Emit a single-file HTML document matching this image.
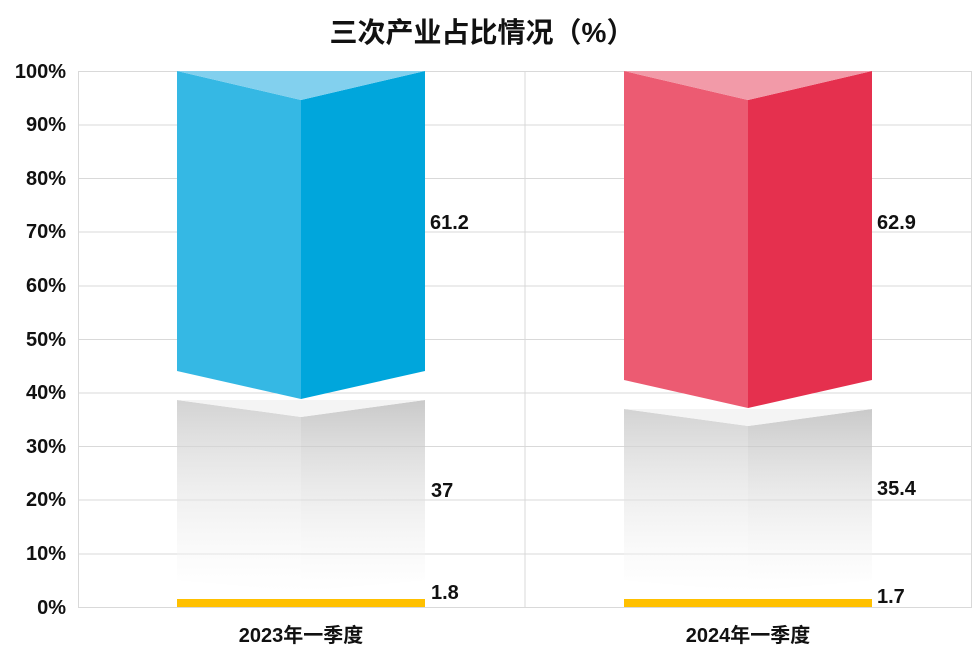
<!DOCTYPE html>
<html><head><meta charset="utf-8"><style>body{margin:0;background:#fff}svg{display:block}</style></head><body>
<svg width="980" height="654" xmlns="http://www.w3.org/2000/svg" font-family="Liberation Sans, Noto Sans CJK SC, sans-serif">
<defs>
<linearGradient id="gl" x1="0" y1="0" x2="0" y2="1"><stop offset="0" stop-color="#c8c8c8" stop-opacity="0.8"/><stop offset="1" stop-color="#ffffff" stop-opacity="0.3"/></linearGradient>
<linearGradient id="gr" x1="0" y1="0" x2="0" y2="1"><stop offset="0" stop-color="#bcbcbc" stop-opacity="0.8"/><stop offset="1" stop-color="#ffffff" stop-opacity="0.3"/></linearGradient>
</defs>
<text x="482" y="42" text-anchor="middle" font-size="28" font-weight="bold" fill="#111">三次产业占比情况（%）</text>
<g stroke="#d9d9d9" stroke-width="1">
<line x1="78" y1="71.5" x2="972" y2="71.5"/><line x1="78" y1="125" x2="972" y2="125"/><line x1="78" y1="178.5" x2="972" y2="178.5"/><line x1="78" y1="232" x2="972" y2="232"/><line x1="78" y1="286" x2="972" y2="286"/><line x1="78" y1="339.5" x2="972" y2="339.5"/><line x1="78" y1="393" x2="972" y2="393"/><line x1="78" y1="446.5" x2="972" y2="446.5"/><line x1="78" y1="500" x2="972" y2="500"/><line x1="78" y1="554" x2="972" y2="554"/><line x1="78" y1="607.5" x2="972" y2="607.5"/>
<line x1="78.5" y1="71" x2="78.5" y2="607"/><line x1="525" y1="71" x2="525" y2="607"/><line x1="971.5" y1="71" x2="971.5" y2="607"/>
</g>
<g font-size="20" font-weight="bold" fill="#111" text-anchor="end">
<text x="66" y="78">100%</text><text x="66" y="131">90%</text><text x="66" y="185">80%</text><text x="66" y="238">70%</text><text x="66" y="292">60%</text><text x="66" y="346">50%</text><text x="66" y="399">40%</text><text x="66" y="453">30%</text><text x="66" y="506">20%</text><text x="66" y="560">10%</text><text x="66" y="614">0%</text>
</g>
<polygon points="177,71 301,100 301,399 177,371" fill="#35b8e4"/>
<polygon points="301,100 425,71 425,371 301,399" fill="#00a6dc"/>
<polygon points="177,71 425,71 301,100" fill="#82d0ee"/>
<polygon points="177,400 301,417 301,592 177,580" fill="url(#gl)"/>
<polygon points="301,417 425,400 425,580 301,592" fill="url(#gr)"/>
<polygon points="177,400 425,400 301,417" fill="#f4f4f4"/>
<rect x="177" y="599" width="248" height="8" fill="#ffc000"/>
<polygon points="624,71 748,100 748,408 624,380" fill="#ec5b72"/>
<polygon points="748,100 872,71 872,380 748,408" fill="#e5304e"/>
<polygon points="624,71 872,71 748,100" fill="#f29aa8"/>
<polygon points="624,409 748,426 748,592 624,580" fill="url(#gl)"/>
<polygon points="748,426 872,409 872,580 748,592" fill="url(#gr)"/>
<polygon points="624,409 872,409 748,426" fill="#f4f4f4"/>
<rect x="624" y="599" width="248" height="8" fill="#ffc000"/>
<g font-size="20" font-weight="bold" fill="#111">
<text x="430" y="229">61.2</text><text x="431" y="497">37</text><text x="431" y="599">1.8</text>
<text x="877" y="229">62.9</text><text x="877" y="495">35.4</text><text x="877" y="603">1.7</text>
<text x="301" y="642" text-anchor="middle" font-size="20">2023年一季度</text>
<text x="748" y="642" text-anchor="middle" font-size="20">2024年一季度</text>
</g>
</svg>
</body></html>
